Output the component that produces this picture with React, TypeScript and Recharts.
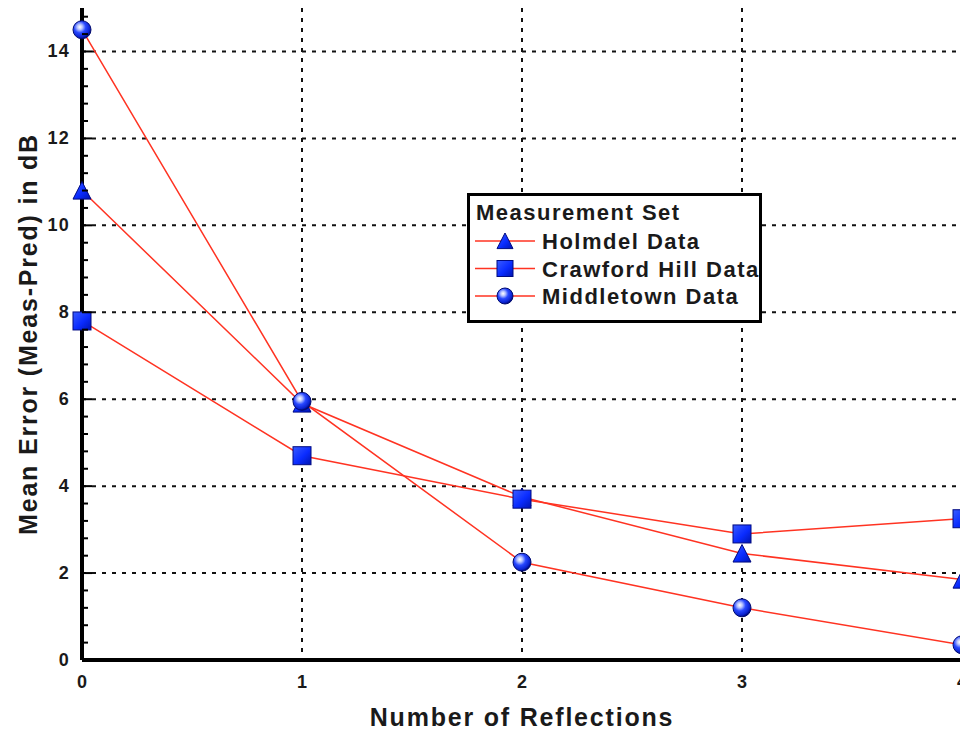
import React from 'react';
import { LineChart, Line, XAxis, YAxis, CartesianGrid, Legend } from 'recharts';

// values
const reflections = [0, 1, 2, 3, 4];
const holmdel = [10.8, 5.9, 3.75, 2.45, 1.85];
const crawfordHill = [7.8, 4.7, 3.7, 2.9, 3.25];
const middletown = [14.5, 5.95, 2.25, 1.2, 0.35];

const xTicks = [0, 1, 2, 3, 4];
const yMajorTicks = [0, 2, 4, 6, 8, 10, 12, 14];
const yMinorTicks = Array.from({ length: 38 }, (_, i) => Math.round(i * 4) / 10);

const seriesNames = ['Holmdel Data', 'Crawford Hill Data', 'Middletown Data'];

const data = reflections.map((r, i) => ({
  r,
  holmdel: holmdel[i],
  crawford: crawfordHill[i],
  middletown: middletown[i],
}));

const LINE_RED = '#ff3322';
const FONT = '"Liberation Sans", Arial, Helvetica, sans-serif';
const INK = '#1a1a1a';

const Triangle = ({ cx, cy, s = 9 }: { cx: number; cy: number; s?: number }) => (
  <polygon
    points={`${cx},${cy - s} ${cx + s},${cy + s * 0.95} ${cx - s},${cy + s * 0.95}`}
    fill="url(#gradBlock)"
    stroke="#000a80"
    strokeWidth={1}
  />
);

const Square = ({ cx, cy, s = 9 }: { cx: number; cy: number; s?: number }) => (
  <rect
    x={cx - s}
    y={cy - s}
    width={s * 2}
    height={s * 2}
    fill="url(#gradBlock)"
    stroke="#000a80"
    strokeWidth={1}
  />
);

const Ball = ({ cx, cy, s = 9 }: { cx: number; cy: number; s?: number }) => (
  <circle cx={cx} cy={cy} r={s} fill="url(#gradBall)" stroke="#000a70" strokeWidth={1} />
);

const markerDot = (Shape: any) => (p: any) => {
  if (p.cx == null || p.cy == null) return <g key={`m-${p.index}`} />;
  return (
    <g key={`m-${p.dataKey}-${p.index}`}>
      <Shape cx={p.cx} cy={p.cy} />
    </g>
  );
};

const isMajor = (v: number) => Math.abs(v / 2 - Math.round(v / 2)) < 1e-6;

const YTick = (props: any) => {
  const { x, y, payload } = props;
  const v = payload.value;
  const major = isMajor(v);
  return (
    <g>
      <line x1={x} y1={y} x2={x + (major ? 10 : 6)} y2={y} stroke="#000" strokeWidth={2} />
      {major && (
        <text
          x={x - 12}
          y={y + 6}
          textAnchor="end"
          fontFamily={FONT}
          fontWeight="bold"
          fontSize={18}
          letterSpacing={1.2}
          fill={INK}
        >
          {v}
        </text>
      )}
    </g>
  );
};

const XTick = (props: any) => {
  const { x, y, payload } = props;
  return (
    <text
      x={x}
      y={y + 28}
      textAnchor="middle"
      fontFamily={FONT}
      fontWeight="bold"
      fontSize={18}
      fill={INK}
    >
      {payload.value}
    </text>
  );
};

const legendShapes = [Triangle, Square, Ball];

const LegendBox = () => (
  <div
    style={{
      width: 289,
      height: 124,
      border: '3px solid #000',
      background: '#fff',
    }}
  >
    <svg width={289} height={124}>
      <text x={6} y={24} fontFamily={FONT} fontWeight="bold" fontSize={22} letterSpacing={1.5} fill={INK}>
        Measurement Set
      </text>
      {seriesNames.map((name, i) => {
        const cy = 45 + i * 27.5;
        const Shape = legendShapes[i];
        return (
          <g key={name}>
            <line x1={5} y1={cy} x2={65} y2={cy} stroke={LINE_RED} strokeWidth={1.5} />
            <Shape cx={35} cy={cy} s={8} />
            <text
              x={72}
              y={cy + 8}
              fontFamily={FONT}
              fontWeight="bold"
              fontSize={22}
              letterSpacing={1.5}
              fill={INK}
            >
              {name}
            </text>
          </g>
        );
      })}
    </svg>
  </div>
);

export default function App() {
  return (
    <div
      style={{
        position: 'fixed',
        left: 0,
        top: 0,
        width: 960,
        height: 731,
        overflow: 'hidden',
        background: '#fff',
      }}
    >
      <LineChart
        width={1000}
        height={731}
        data={data}
        margin={{ top: 8, right: 38, bottom: 0, left: 8 }}
      >
        <defs>
          <linearGradient id="gradBlock" x1="0" y1="0" x2="1" y2="1">
            <stop offset="0%" stopColor="#3a5cff" />
            <stop offset="55%" stopColor="#0a2cff" />
            <stop offset="100%" stopColor="#0014b0" />
          </linearGradient>
          <radialGradient id="gradBall" cx="38%" cy="35%" r="65%">
            <stop offset="0%" stopColor="#ffffff" />
            <stop offset="22%" stopColor="#b8c4ff" />
            <stop offset="50%" stopColor="#2848ff" />
            <stop offset="85%" stopColor="#0a22d0" />
            <stop offset="100%" stopColor="#000a80" />
          </radialGradient>
        </defs>
        <CartesianGrid
          horizontalValues={yMajorTicks}
          verticalValues={xTicks}
          stroke="#111"
          strokeWidth={2}
          strokeDasharray="4 6"
        />
        <XAxis
          dataKey="r"
          type="number"
          domain={[0, 4]}
          ticks={xTicks}
          tick={<XTick />}
          tickLine={false}
          tickSize={0}
          tickMargin={0}
          height={71}
          axisLine={{ stroke: '#000', strokeWidth: 4 }}
          label={{
            value: 'Number of Reflections',
            position: 'insideBottom',
            offset: 5,
            style: {
              fontFamily: FONT,
              fontWeight: 'bold',
              fontSize: 25,
              letterSpacing: 1.8,
              fill: INK,
            },
          }}
        />
        <XAxis
          xAxisId="top"
          orientation="top"
          type="number"
          domain={[0, 4]}
          ticks={xTicks}
          tick={false}
          tickLine={false}
          height={0}
          axisLine={{ stroke: '#000', strokeWidth: 4 }}
        />
        <YAxis
          type="number"
          domain={[0, 15]}
          ticks={yMinorTicks}
          interval={0}
          tick={<YTick />}
          tickLine={false}
          tickSize={0}
          tickMargin={0}
          width={74}
          axisLine={{ stroke: '#000', strokeWidth: 4 }}
          label={{
            value: 'Mean Error (Meas-Pred) in dB',
            angle: -90,
            position: 'insideLeft',
            offset: 20,
            style: {
              textAnchor: 'middle',
              fontFamily: FONT,
              fontWeight: 'bold',
              fontSize: 25,
              letterSpacing: 1.8,
              fill: INK,
            },
          }}
        />
        <Legend
          layout="vertical"
          align="center"
          verticalAlign="middle"
          content={<LegendBox />}
          wrapperStyle={{ left: 467, top: 193, width: 295, height: 130 }}
        />
        <Line
          type="linear"
          dataKey="holmdel"
          name={seriesNames[0]}
          stroke={LINE_RED}
          strokeWidth={1.5}
          dot={markerDot(Triangle)}
          activeDot={false}
          isAnimationActive={false}
        />
        <Line
          type="linear"
          dataKey="crawford"
          name={seriesNames[1]}
          stroke={LINE_RED}
          strokeWidth={1.5}
          dot={markerDot(Square)}
          activeDot={false}
          isAnimationActive={false}
        />
        <Line
          type="linear"
          dataKey="middletown"
          name={seriesNames[2]}
          stroke={LINE_RED}
          strokeWidth={1.5}
          dot={markerDot(Ball)}
          activeDot={false}
          isAnimationActive={false}
        />
      </LineChart>
    </div>
  );
}
